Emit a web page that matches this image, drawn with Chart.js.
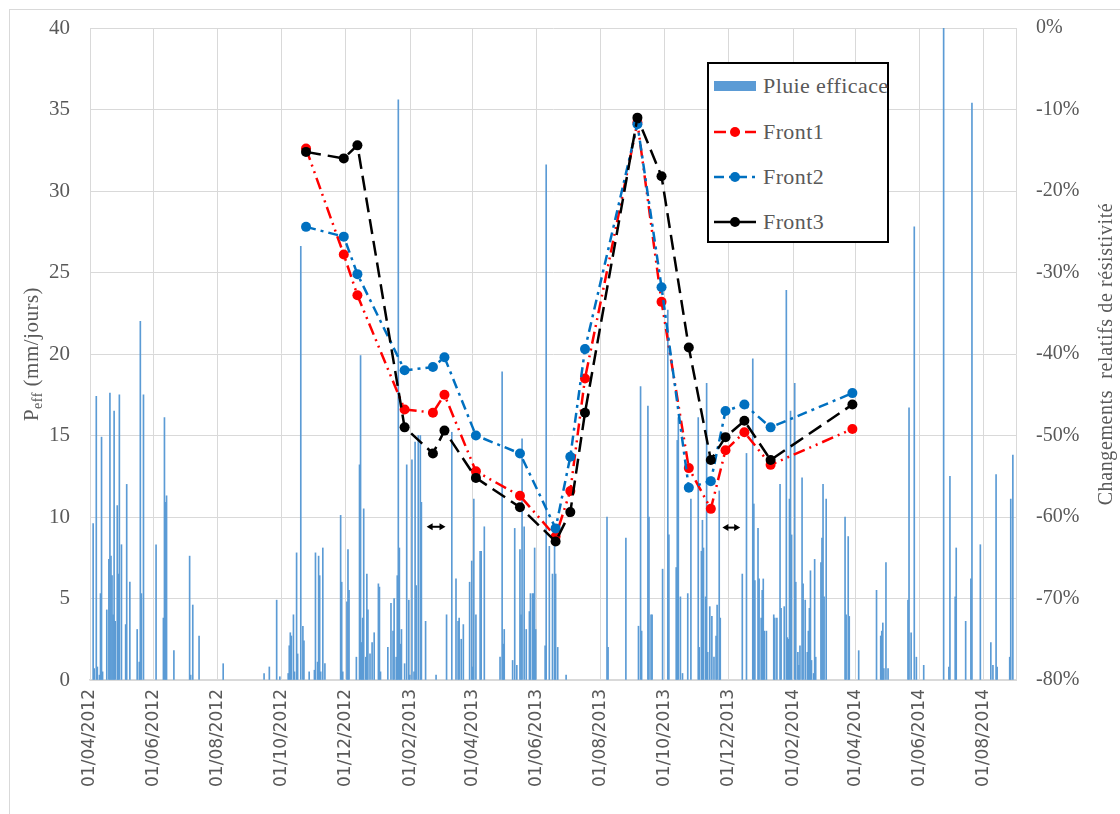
<!DOCTYPE html>
<html>
<head>
<meta charset="utf-8">
<script src="https://cdn.jsdelivr.net/npm/chart.js@4.4.1/dist/chart.umd.min.js"></script>
<style>
  body { margin: 0; overflow: hidden; background: #fff; }
  #wrap { position: relative; width: 1120px; height: 814px; overflow: hidden; }
  #frame { position: absolute; left: 9px; top: 9px; width: 1200px; height: 900px; border: 1px solid #D9D9D9; }
  #chart { position: absolute; left: 0; top: 0; }
  #legend {
    position: absolute; left: 707px; top: 62px; width: 178px; height: 177px;
    border: 2px solid #000; background: #fff;
    font-family: "Liberation Serif", serif; font-size: 22px; color: #595959; letter-spacing: 0.4px;
  }
  .row { position: absolute; left: 5px; height: 24px; display: flex; align-items: center; white-space: nowrap; }
  .row svg { margin-right: 5px; flex: none; }
</style>
</head>
<body>
<div id="wrap">
  <div id="frame"></div>
  <canvas id="chart" width="1120" height="814"></canvas>
  <div id="legend"></div>
</div>
<script>
// axis ticks (Excel date axis, every 2 months)
const tickLabels = ['01/04/2012', '01/06/2012', '01/08/2012', '01/10/2012', '01/12/2012',
  '01/02/2013', '01/04/2013', '01/06/2013', '01/08/2013', '01/10/2013', '01/12/2013',
  '01/02/2014', '01/04/2014', '01/06/2014', '01/08/2014'];
const axisStart = '01/04/2012';
const axisEnd = '01/09/2014';

// daily effective rain: day number counted from 01/04/2012, value in mm/jour
const rainDays = [3, 4, 6, 7, 9, 10, 11, 12, 16, 18, 19, 20, 21, 22, 23, 24, 26, 27, 28, 30,
  34, 35, 38, 45, 47, 48, 49, 51, 63, 70, 71, 72, 73, 80, 95, 96, 98, 104, 127, 166,
  171, 178, 181, 189, 190, 191, 192, 194, 195, 197, 198, 201, 203, 204, 209, 214, 215, 217, 218, 219,
  220, 222, 224, 239, 240, 241, 245, 246, 247, 254, 257, 258, 259, 260, 261, 263, 264, 265, 267, 269,
  271, 275, 276, 277, 284, 287, 289, 290, 292, 293, 294, 295, 296, 297, 300, 302, 304, 305, 307, 309,
  310, 311, 313, 315, 316, 320, 330, 340, 345, 349, 351, 352, 354, 356, 362, 364, 365, 366, 368, 372,
  373, 376, 391, 393, 394, 395, 403, 405, 407, 410, 411, 412, 414, 416, 419, 420, 422, 423, 424, 425,
  434, 435, 438, 441, 443, 444, 446, 454, 493, 494, 511, 523, 525, 526, 532, 533, 535, 536, 546, 551,
  552, 559, 560, 561, 563, 565, 570, 573, 580, 581, 583, 584, 585, 587, 588, 589, 591, 593, 595, 597,
  598, 600, 601, 622, 626, 632, 633, 634, 637, 638, 640, 641, 642, 643, 645, 652, 653, 655, 658, 659,
  662, 664, 665, 666, 667, 668, 669, 672, 673, 675, 676, 677, 679, 680, 682, 684, 685, 686, 687, 688,
  690, 691, 692, 697, 698, 699, 700, 702, 720, 721, 723, 724, 733, 750, 754, 755, 756, 757, 759, 761,
  780, 781, 783, 786, 788, 795, 814, 819, 820, 825, 826, 835, 840, 841, 849, 859, 861, 864, 865, 877,
  878, 880];
const rainValues = [9.6, 0.7, 17.4, 0.8, 0.3, 5.3, 14.9, 0.5, 4.3, 7.4, 17.6, 7.6, 6.4, 4.0, 16.5, 3.6, 10.7, 6.5, 17.5, 8.3,
  3.4, 12.0, 6.0, 3.1, 1.1, 22.0, 5.3, 17.5, 8.3, 3.8, 16.1, 10.9, 11.3, 1.8, 7.6, 0.3, 4.6, 2.7, 1.0, 0.4,
  0.8, 4.9, 0.2, 0.4, 2.1, 2.9, 2.7, 4.0, 0.5, 7.8, 1.6, 26.6, 3.3, 2.4, 0.5, 0.6, 7.8, 1.1, 7.6, 6.4,
  0.5, 8.1, 1.0, 10.1, 6.0, 0.5, 4.8, 8.0, 5.5, 1.4, 13.2, 19.9, 2.3, 3.8, 10.5, 1.4, 6.5, 4.3, 1.6, 2.3,
  2.9, 5.9, 5.7, 0.5, 2.0, 4.7, 3.0, 5.0, 1.4, 6.4, 35.6, 8.1, 2.2, 3.1, 1.0, 13.2, 4.9, 0.3, 13.5, 0.5,
  14.6, 5.8, 15.0, 15.0, 10.9, 3.6, 0.3, 4.0, 15.2, 6.2, 3.6, 3.8, 2.5, 3.4, 6.0, 7.3, 0.8, 11.1, 4.0, 7.9,
  7.9, 9.4, 1.4, 18.9, 2.2, 3.1, 1.2, 9.3, 0.9, 8.0, 4.0, 14.8, 9.4, 3.1, 4.2, 5.3, 5.3, 5.3, 8.1, 3.1,
  2.1, 31.6, 8.2, 6.5, 9.4, 6.5, 2.0, 0.3, 10.0, 2.0, 8.7, 3.3, 18.0, 3.0, 16.8, 10.0, 4.0, 4.0, 6.8, 22.7,
  8.9, 6.9, 14.7, 16.1, 5.1, 0.4, 5.3, 11.1, 16.1, 2.0, 7.9, 9.8, 8.1, 5.1, 18.2, 1.7, 4.5, 3.9, 1.4, 2.7,
  4.6, 11.6, 3.8, 6.5, 13.9, 19.7, 10.8, 6.1, 9.3, 6.2, 3.8, 5.5, 6.2, 3.0, 3.0, 4.0, 3.8, 3.8, 12.0, 4.4,
  4.5, 23.9, 2.6, 2.5, 11.1, 16.5, 8.9, 18.2, 6.0, 1.7, 0.9, 2.1, 12.4, 5.9, 4.9, 1.7, 3.0, 4.4, 6.7, 1.2,
  0.4, 7.4, 1.4, 7.2, 8.7, 12.0, 5.1, 11.1, 10.0, 4.0, 8.8, 3.9, 1.8, 5.5, 2.7, 3.0, 3.5, 0.7, 7.2, 0.7,
  4.9, 16.7, 2.9, 27.8, 1.4, 0.9, 40.0, 0.8, 12.5, 5.1, 8.1, 3.6, 6.2, 35.4, 8.3, 2.3, 0.9, 12.6, 0.8, 1.4,
  11.1, 13.8];

// resistivity surveys (relative change, %)
const surveyDates = ['24/10/2012', '29/11/2012', '12/12/2012', '26/01/2013', '22/02/2013', '05/03/2013',
  '04/04/2013', '16/05/2013', '19/06/2013', '03/07/2013', '17/07/2013', '05/09/2013', '28/09/2013',
  '24/10/2013', '14/11/2013', '28/11/2013', '16/12/2013', '10/01/2014', '29/03/2014'];
const front1 = [-14.8, -27.8, -32.8, -46.8, -47.2, -45.0, -54.4, -57.4, -62.4, -56.8, -43.0, -11.6, -33.6,
  -54.0, -59.0, -51.8, -49.6, -53.6, -49.2];
const front2 = [-24.4, -25.6, -30.2, -42.0, -41.6, -40.4, -50.0, -52.2, -61.4, -52.6, -39.4, -11.8, -31.8,
  -56.4, -55.6, -47.0, -46.2, -49.0, -44.8];
const front3 = [-15.2, -16.0, -14.4, -49.0, -52.2, -49.4, -55.2, -58.8, -63.0, -59.4, -47.2, -11.0, -18.2,
  -39.2, -53.0, -50.2, -48.2, -53.0, -46.2];

// small double arrows (period markers), y in mm/jour
const arrowFrom = ['16/02/2013', '25/11/2013'];
const arrowTo = ['06/03/2013', '12/12/2013'];
const arrowLevel = [9.4, 9.35];


function dayOf(label) {
  const p = label.split('/');
  const s = axisStart.split('/');
  return Math.round((Date.UTC(+p[2], +p[1] - 1, +p[0]) - Date.UTC(+s[2], +s[1] - 1, +s[0])) / 86400000);
}

const rainData = rainDays.map((d, i) => ({ x: d, y: rainValues[i] }));
function frontData(vals) {
  return surveyDates.map((d, i) => ({ x: dayOf(d), y: vals[i] }));
}

const serif = 'Liberation Serif';

function lineSet(label, vals, color, dash, order) {
  return {
    type: 'line',
    label: label,
    data: frontData(vals),
    yAxisID: 'y2',
    borderColor: color,
    backgroundColor: color,
    borderWidth: 2.5,
    borderDash: dash,
    pointRadius: 5,
    pointBorderWidth: 0,
    pointBackgroundColor: color,
    tension: 0,
    order: order
  };
}

// keep the plot box where Excel put it
function fitY(width) {
  return s => { s.width = width; s.paddingTop = 0; s.paddingBottom = 0; };
}

// titles with subscript + arrows
const extrasPlugin = {
  id: 'extras',
  afterDatasetsDraw(chart) {
    const ctx = chart.ctx;
    const xs = chart.scales.x, ys = chart.scales.y;
    ctx.save();
    ctx.strokeStyle = '#000';
    ctx.fillStyle = '#000';
    ctx.lineWidth = 2;
    for (let i = 0; i < arrowFrom.length; i++) {
      const x1 = xs.getPixelForValue(dayOf(arrowFrom[i]));
      const x2 = xs.getPixelForValue(dayOf(arrowTo[i]));
      const y = ys.getPixelForValue(arrowLevel[i]);
      ctx.beginPath();
      ctx.moveTo(x1 + 3, y); ctx.lineTo(x2 - 3, y);
      ctx.stroke();
      ctx.beginPath();
      ctx.moveTo(x1, y); ctx.lineTo(x1 + 6, y - 3.5); ctx.lineTo(x1 + 6, y + 3.5); ctx.closePath();
      ctx.moveTo(x2, y); ctx.lineTo(x2 - 6, y - 3.5); ctx.lineTo(x2 - 6, y + 3.5); ctx.closePath();
      ctx.fill();
    }
    ctx.restore();
  },
  afterDraw(chart) {
    const ctx = chart.ctx;
    const a = chart.chartArea;
    const cy = (a.top + a.bottom) / 2;
    ctx.save();
    ctx.fillStyle = '#595959';
    ctx.textBaseline = 'alphabetic';
    ctx.letterSpacing = '0.5px';

    // left: P_eff (mm/jours)
    const big = '21px "' + serif + '"', small = '14px "' + serif + '"';
    ctx.font = big;
    const wP = ctx.measureText('P').width;
    const wRest = ctx.measureText(' (mm/jours)').width;
    ctx.font = small;
    const wSub = ctx.measureText('eff').width;
    const total = wP + wSub + wRest;
    ctx.translate(a.left - 52, cy);
    ctx.rotate(-Math.PI / 2);
    let x = -total / 2;
    ctx.font = big; ctx.fillText('P', x, 0); x += wP;
    ctx.font = small; ctx.fillText('eff', x, 4); x += wSub;
    ctx.font = big; ctx.fillText(' (mm/jours)', x, 0);
    ctx.restore();

    // right title
    ctx.save();
    ctx.fillStyle = '#595959';
    ctx.letterSpacing = '0.6px';
    ctx.font = '20px "' + serif + '"';
    ctx.textAlign = 'center';
    ctx.translate(a.right + 96, cy);
    ctx.rotate(-Math.PI / 2);
    ctx.fillText('Changements  relatifs de résistivité', 0, 0);
    ctx.restore();
  }
};

const chart = new Chart(document.getElementById('chart'), {
  type: 'bar',
  data: {
    datasets: [
      {
        type: 'bar',
        label: 'Pluie efficace',
        data: rainData,
        yAxisID: 'y',
        backgroundColor: '#5B9BD5',
        borderWidth: 0,
        barThickness: 1,
        order: 10
      },
      lineSet('Front1', front1, '#FF0000', [12, 5, 2, 5, 2, 5], 3),
      lineSet('Front2', front2, '#0070C0', [10, 5, 3, 5], 2),
      lineSet('Front3', front3, '#000000', [15, 7], 1)
    ]
  },
  options: {
    responsive: false,
    animation: false,
    layout: { padding: { top: 28, left: 0, right: 0, bottom: 0 } },
    plugins: { legend: { display: false }, tooltip: { enabled: false } },
    scales: {
      x: {
        type: 'linear',
        min: 0,
        max: dayOf(axisEnd),
        offset: false,
        afterBuildTicks: s => { s.ticks = tickLabels.map(l => ({ value: dayOf(l) })); },
        afterFit: s => { s.height = 134; s.paddingLeft = 0; s.paddingRight = 0; },
        grid: { color: '#D9D9D9', drawTicks: false, offset: false },
        border: { color: '#D9D9D9', width: 1.5 },
        ticks: {
          autoSkip: false, minRotation: 90, maxRotation: 90, padding: 9,
          color: '#595959', font: { family: 'DejaVu Sans', size: 17 },
          callback: (v, i) => tickLabels[i]
        }
      },
      y: {
        position: 'left',
        min: 0, max: 40,
        afterFit: fitY(90),
        grid: { color: '#D9D9D9', drawTicks: false },
        border: { color: '#D9D9D9' },
        ticks: { stepSize: 5, padding: 20, color: '#595959', font: { family: serif, size: 21 } }
      },
      y2: {
        position: 'right',
        min: -80, max: 0,
        afterFit: fitY(104),
        grid: { display: false, drawTicks: false },
        border: { color: '#D9D9D9' },
        ticks: { stepSize: 10, padding: 20, color: '#595959', font: { family: serif, size: 20 },
          callback: v => v + '%' }
      }
    }
  },
  plugins: [extrasPlugin]
});

// html legend, built from the datasets
function BuildLegend(chart) {
  const box = document.getElementById('legend');
  const rowsY = [10, 55.5, 101, 146];
  chart.data.datasets.forEach((ds, i) => {
    const row = document.createElement('div');
    row.className = 'row';
    row.style.top = rowsY[i] + 'px';
    let svg;
    if (ds.type === 'bar') {
      svg = '<svg width="44" height="24"><rect x="0" y="7" width="42" height="10" fill="' + ds.backgroundColor + '"/></svg>';
    } else {
      svg = '<svg width="44" height="24"><line x1="0" y1="12" x2="42" y2="12" stroke="' + ds.borderColor +
        '" stroke-width="2.5" stroke-dasharray="' + (i === 3 ? '' : ds.borderDash.join(',')) + '"/>' +
        '<circle cx="21" cy="12" r="5" fill="' + ds.borderColor + '"/></svg>';
    }
    row.innerHTML = svg + '<span>' + ds.label + '</span>';
    box.appendChild(row);
  });
}
BuildLegend(chart);
</script>
</body>
</html>
